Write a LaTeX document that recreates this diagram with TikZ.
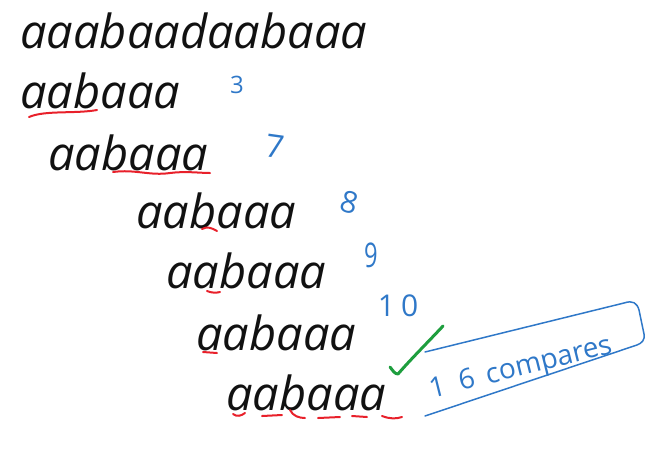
\documentclass[tikz,border=0pt]{standalone}
\usepackage{fontspec}
\setmainfont{Open Sans}
\definecolor{inkblack}{HTML}{111111}
\definecolor{inkred}{HTML}{E8202A}
\definecolor{inkblue}{HTML}{2F78C8}
\definecolor{inkgreen}{HTML}{1E9E3E}
\tikzset{
  row/.style={anchor=base west, inner sep=0pt, inkblack,
              font=\fontsize{47}{50}\selectfont\itshape},
  cnt/.style={inkblue, inner sep=0pt, font=\fontsize{24}{26}\selectfont},
  redmark/.style={inkred, line width=2pt, line cap=round},
  blueink/.style={inkblue, line width=1.5pt, line cap=round, line join=round},
  tick/.style={inkgreen, line width=3pt, line cap=round, line join=round},
}
\begin{document}
\begin{tikzpicture}[x=1pt,y=-1pt]
  \useasboundingbox (0,0) rectangle (652,459);
  % text and the pattern at each shift
  \node[row] (txt) at (20,48){aaabaadaabaaa};
  \node[row] (p1) at (20,108){aabaaa};
  \node[row] (p2) at (48,170){aabaaa};
  \node[row] (p3) at (136,228){aabaaa};
  \node[row] (p4) at (166,288){aabaaa};
  \node[row] (p5) at (196,350){aabaaa};
  \node[row] (p6) at (226,410){aabaaa};
  % compared characters
  \draw[redmark] (29,117) .. controls (45,110) and (75,114) .. (97,110);
  \draw[redmark] (113,172) .. controls (135,169) and (150,176) .. (170,173)
                 .. controls (185,171) and (200,173) .. (210,173);
  \draw[redmark] (202,229) .. controls (207,226) and (212,228) .. (217,231);
  \draw[redmark] (207,291) .. controls (212,293) and (216,293) .. (220,292);
  \draw[redmark] (203,352) -- (217,353);
  \draw[redmark] (233,414) .. controls (237,417) and (241,416) .. (245,413);
  \draw[redmark] (262,416) -- (282,415);
  \draw[redmark] (290,410) .. controls (293,416) and (299,418) .. (305,418);
  \draw[redmark] (318,418) -- (340,417);
  \draw[redmark] (352,416) -- (367,417);
  \draw[redmark] (382,416) .. controls (390,419) and (396,419) .. (402,417);
  % running counts
  \node[cnt] (c1) at (237,85){3};
  \node[cnt,font=\fontsize{32}{34}\selectfont,rotate=-8] (c2) at (275,146){7};
  \node[cnt,font=\fontsize{30}{32}\selectfont,rotate=-15] (c3) at (350,202){8};
  \node[cnt,font=\fontsize{34}{36}\selectfont,xscale=0.7] (c4) at (371,255){9};
  \node[cnt,font=\fontsize{30}{32}\selectfont] (c5) at (398,306){1\hspace{6pt}0};
  % match found
  \draw[tick] (390,367) .. controls (393,371) and (395,374) .. (398,374)
              .. controls (410,360) and (430,340) .. (443,326);
  \node[cnt,font=\fontsize{28}{30}\selectfont,rotate=14] (total) at (521,369)
       {1\hspace{14pt}6\hspace{12pt}compares};
  \draw[blueink] (425,352) -- (624,303) .. controls (633,300) and (637,303) .. (639,310)
                 -- (644,334) .. controls (645,340) and (642,343) .. (637,345)
                 -- (425,416);
\end{tikzpicture}
\end{document}
